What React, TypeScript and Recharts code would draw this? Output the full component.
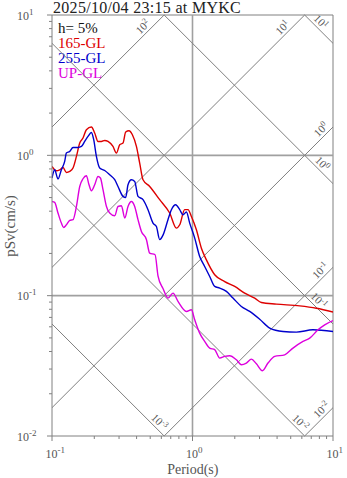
import React from 'react';
import { ComposedChart, Line, XAxis, YAxis, ReferenceLine, Scatter } from 'recharts';

const TITLE = '2025/10/04 23:15 at MYKC';
const DAMPING_LABEL = 'h= 5%';
const X_LABEL = 'Period(s)';
const Y_LABEL = 'pSv(cm/s)';

const seriesNames = ['165-GL', '255-GL', 'UP-GL'];
const seriesColors = ['#dd0000', '#0000cc', '#dd00dd'];

const period165 = [0.1, 0.1075, 0.1135, 0.1198, 0.1266, 0.1337, 0.1411, 0.1492, 0.1575, 0.1662, 0.1757, 0.1907, 0.2013, 0.2126, 0.2247, 0.2372, 0.2504, 0.2717, 0.2874, 0.3033, 0.3201, 0.3346, 0.3532, 0.3734, 0.3988, 0.4209, 0.4444, 0.4958, 0.5841, 0.688, 0.768, 0.811, 0.88, 0.929, 0.982, 1.066, 1.157, 1.256, 1.439, 1.695, 1.997, 2.352, 2.772, 3.093, 3.955, 5.794, 7.62, 10];
const psv165 = [0.834, 0.776, 0.789, 0.82, 0.755, 0.768, 0.812, 0.982, 1.224, 1.328, 1.522, 1.591, 1.442, 1.256, 1.256, 1.277, 1.256, 1.157, 1.038, 1.19, 1.224, 1.466, 1.497, 1.402, 1.157, 0.881, 0.67, 0.6, 0.483, 0.388, 0.303, 0.32, 0.41, 0.41, 0.367, 0.295, 0.218, 0.18, 0.141, 0.126, 0.1163, 0.1043, 0.0961, 0.0894, 0.0871, 0.0846, 0.0814, 0.0765];

const period255 = [0.1, 0.1045, 0.1103, 0.1166, 0.1231, 0.1266, 0.1337, 0.1411, 0.1531, 0.1619, 0.1709, 0.1804, 0.1907, 0.1981, 0.207, 0.2185, 0.2372, 0.2574, 0.2795, 0.295, 0.3201, 0.3346, 0.3475, 0.3674, 0.3878, 0.4094, 0.4444, 0.4823, 0.5235, 0.5534, 0.5841, 0.6166, 0.669, 0.7077, 0.7592, 0.811, 0.856, 0.905, 0.955, 1.037, 1.125, 1.221, 1.326, 1.439, 1.562, 1.743, 1.942, 2.228, 2.553, 3.008, 3.544, 4.408, 5.49, 7.2, 10];
const psv255 = [0.689, 0.789, 0.678, 0.789, 0.905, 1.038, 1.066, 1.138, 1.138, 1.157, 1.256, 1.364, 1.456, 1.292, 0.982, 0.812, 0.78, 0.727, 0.67, 0.6, 0.51, 0.501, 0.617, 0.67, 0.652, 0.51, 0.483, 0.41, 0.329, 0.311, 0.251, 0.27, 0.348, 0.41, 0.445, 0.41, 0.377, 0.395, 0.329, 0.257, 0.19, 0.1615, 0.137, 0.1163, 0.1133, 0.1072, 0.0961, 0.0838, 0.0772, 0.0679, 0.0588, 0.0556, 0.055, 0.0571, 0.0556];

const periodUP = [0.1, 0.1045, 0.1103, 0.1166, 0.1211, 0.1266, 0.1337, 0.1411, 0.1492, 0.1575, 0.1662, 0.1757, 0.1834, 0.1907, 0.2013, 0.2126, 0.2211, 0.2307, 0.2441, 0.2574, 0.2795, 0.295, 0.3119, 0.3297, 0.3475, 0.3674, 0.3878, 0.4094, 0.4328, 0.4697, 0.4958, 0.5416, 0.568, 0.6166, 0.669, 0.7264, 0.7885, 0.905, 0.982, 1.037, 1.125, 1.221, 1.326, 1.439, 1.562, 1.695, 1.84, 2.053, 2.228, 2.418, 2.626, 2.85, 3.145, 3.446, 3.846, 4.532, 5.19, 6.115, 6.83, 7.82, 8.73, 10];
const psvUP = [0.469, 0.462, 0.388, 0.329, 0.306, 0.32, 0.344, 0.348, 0.432, 0.6, 0.681, 0.715, 0.617, 0.559, 0.617, 0.707, 0.689, 0.569, 0.432, 0.388, 0.371, 0.432, 0.437, 0.357, 0.432, 0.469, 0.432, 0.348, 0.287, 0.251, 0.201, 0.1957, 0.1386, 0.1125, 0.0961, 0.1043, 0.091, 0.0772, 0.0794, 0.0673, 0.0541, 0.0472, 0.0423, 0.0412, 0.0359, 0.0369, 0.0373, 0.0349, 0.0322, 0.0331, 0.0353, 0.0327, 0.0292, 0.0331, 0.0369, 0.0379, 0.0423, 0.0472, 0.0498, 0.0571, 0.062, 0.0665];

const xMajorTicks = [0.1, 1, 10];
const xMinorTicks = [0.2, 0.3, 0.4, 0.5, 0.6, 0.7, 0.8, 0.9, 2, 3, 4, 5, 6, 7, 8, 9];
const yMajorTicks = [0.01, 0.1, 1, 10];
const yMinorTicks = [0.02, 0.03, 0.04, 0.05, 0.06, 0.07, 0.08, 0.09, 0.2, 0.3, 0.4, 0.5, 0.6, 0.7, 0.8, 0.9, 2, 3, 4, 5, 6, 7, 8, 9];

// pseudo-acceleration levels (cm/s^2) and displacement levels (cm)
const accelLevels = [100, 10, 1, 0.1, 0.01];
const accelLabelPeriods = [0.479, 4.73, 8.88, 8.78, 8.95];
const dispLevels = [10, 1, 0.1, 0.01, 0.001];
const dispLabelPeriods = [7.59, 7.77, 7.34, 5.42, 0.538];

const T_MIN = 0.1, T_MAX = 10, V_MIN = 0.01, V_MAX = 10;
const TWO_PI = 2 * Math.PI;

const FONT = '"Liberation Serif", "Times New Roman", serif';
const AXIS_COLOR = '#808080';
const TEXT_COLOR = '#555555';
const DIAG_COLOR = '#808080';
const GRID_COLOR = '#a0a0a0';

const zip = (ts: number[], vs: number[]) => ts.map((T, i) => ({ T, v: vs[i] }));
const seriesData = [zip(period165, psv165), zip(period255, psv255), zip(periodUP, psvUP)];

const accelSegments = accelLevels.map((A) => {
  const t1 = Math.max(T_MIN, (V_MIN * TWO_PI) / A);
  const t2 = Math.min(T_MAX, (V_MAX * TWO_PI) / A);
  return [{ x: t1, y: (A * t1) / TWO_PI }, { x: t2, y: (A * t2) / TWO_PI }];
});
const dispSegments = dispLevels.map((D) => {
  const t1 = Math.max(T_MIN, (TWO_PI * D) / V_MAX);
  const t2 = Math.min(T_MAX, (TWO_PI * D) / V_MIN);
  return [{ x: t1, y: (TWO_PI * D) / t1 }, { x: t2, y: (TWO_PI * D) / t2 }];
});

const exponentOf = (v: number) => Math.round(Math.log10(v));

const labelData = [
  ...accelLevels.map((A, i) => {
    const T = accelLabelPeriods[i];
    return { T, v: (A * T) / TWO_PI, exp: exponentOf(A), angle: -45 };
  }),
  ...dispLevels.map((D, i) => {
    const T = dispLabelPeriods[i];
    return { T, v: (TWO_PI * D) / T, exp: exponentOf(D), angle: 45 };
  }),
];

const isMajor = (v: number, majors: number[]) => majors.some((m) => Math.abs(m - v) / m < 1e-6);

const XTick = (props: any) => {
  const { x, y, payload } = props;
  const major = isMajor(payload.value, xMajorTicks);
  return (
    <g>
      <line x1={x} x2={x} y1={y} y2={y + (major ? 5 : 3)} stroke={AXIS_COLOR} strokeWidth={1} />
      {major && (
        <text x={x - 6.5} y={y + 22} fontSize={12} fill={TEXT_COLOR} fontFamily={FONT}>
          10
          <tspan dy={-5} fontSize={9}>{exponentOf(payload.value)}</tspan>
        </text>
      )}
    </g>
  );
};

const YTick = (props: any) => {
  const { x, y, payload } = props;
  const major = isMajor(payload.value, yMajorTicks);
  return (
    <g>
      <line x1={x} x2={x - (major ? 5 : 3)} y1={y} y2={y} stroke={AXIS_COLOR} strokeWidth={1} />
      {major && (
        <text x={x - 35} y={y + 4.5} fontSize={12} fill={TEXT_COLOR} fontFamily={FONT}>
          10
          <tspan dy={-5} fontSize={9}>{exponentOf(payload.value)}</tspan>
        </text>
      )}
    </g>
  );
};

const DiagLabel = (props: any) => {
  const { cx, cy, payload } = props;
  if (cx == null || cy == null) return null;
  return (
    <text
      transform={`translate(${cx},${cy}) rotate(${payload.angle})`}
      y={-3}
      textAnchor="middle"
      fontSize={11}
      fill={TEXT_COLOR}
      fontFamily={FONT}
    >
      10
      <tspan dy={-4} fontSize={8}>{payload.exp}</tspan>
    </text>
  );
};

export default function App() {
  return (
    <div style={{ position: 'absolute', left: 0, top: 0, width: 347, height: 478, background: '#fff' }}>
      <ComposedChart width={347} height={478} margin={{ top: 15, right: 14, bottom: 0, left: 0 }}>
        <XAxis
          dataKey="T"
          type="number"
          scale="log"
          domain={[T_MIN, T_MAX]}
          allowDataOverflow
          ticks={[...xMajorTicks, ...xMinorTicks]}
          interval={0}
          tickSize={0}
          tickMargin={0}
          tickLine={false}
          tick={<XTick />}
          height={42}
          axisLine={{ stroke: AXIS_COLOR }}
        />
        <YAxis
          dataKey="v"
          type="number"
          scale="log"
          domain={[V_MIN, V_MAX]}
          allowDataOverflow
          ticks={[...yMajorTicks, ...yMinorTicks]}
          interval={0}
          tickSize={0}
          tickMargin={0}
          tickLine={false}
          tick={<YTick />}
          width={52}
          axisLine={{ stroke: AXIS_COLOR }}
        />
        <ReferenceLine y={V_MAX} stroke={AXIS_COLOR} strokeWidth={1} />
        <ReferenceLine x={T_MAX} stroke={AXIS_COLOR} strokeWidth={1} />
        <ReferenceLine x={1} stroke={GRID_COLOR} strokeWidth={1.6} />
        <ReferenceLine y={1} stroke={GRID_COLOR} strokeWidth={1.6} />
        <ReferenceLine y={0.1} stroke={GRID_COLOR} strokeWidth={1.6} />
        {accelSegments.map((seg, i) => (
          <ReferenceLine key={'a' + i} segment={seg} stroke={DIAG_COLOR} strokeWidth={1} ifOverflow="visible" />
        ))}
        {dispSegments.map((seg, i) => (
          <ReferenceLine key={'d' + i} segment={seg} stroke={DIAG_COLOR} strokeWidth={1} ifOverflow="visible" />
        ))}
        <Scatter data={labelData} dataKey="v" shape={<DiagLabel />} isAnimationActive={false} legendType="none" />
        {seriesData.map((d, i) => (
          <Line
            key={seriesNames[i]}
            data={d}
            dataKey="v"
            name={seriesNames[i]}
            stroke={seriesColors[i]}
            strokeWidth={1.4}
            dot={false}
            type="monotone"
            isAnimationActive={false}
          />
        ))}
        <g fontFamily={FONT} fontSize={15}>
          <text x={58} y={33} fill="#111">{DAMPING_LABEL}</text>
          {seriesNames.map((n, i) => (
            <text key={n} x={58} y={48 + i * 15} fill={seriesColors[i]}>{n}</text>
          ))}
        </g>
        <text x={53} y={12.5} fontSize={16} letterSpacing={0.3} fill="#222" fontFamily={FONT}>{TITLE}</text>
        <text x={192.8} y={474} fontSize={14} fill={TEXT_COLOR} fontFamily={FONT} textAnchor="middle">{X_LABEL}</text>
        <text transform="translate(15,226) rotate(-90)" fontSize={15} fill={TEXT_COLOR} fontFamily={FONT} textAnchor="middle">{Y_LABEL}</text>
      </ComposedChart>
    </div>
  );
}
